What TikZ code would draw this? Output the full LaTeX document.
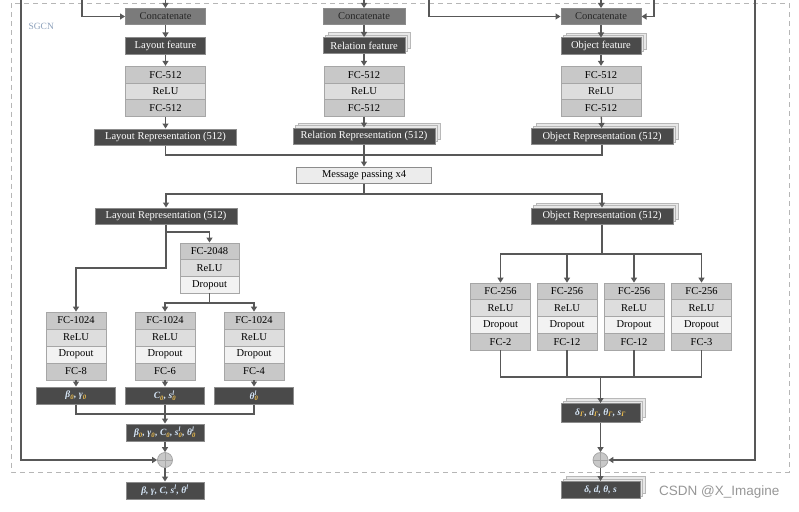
\documentclass[tikz,border=0pt]{standalone}
\usepackage{fontspec}
\setmainfont{Liberation Serif}
\newfontfamily\creditfont{Liberation Sans}
\usepackage{xcolor}
\usepackage{tikz}
\definecolor{linegray}{RGB}{88,88,88}
\definecolor{darkfill}{RGB}{74,74,74}
\definecolor{boxborder}{RGB}{140,140,140}
\definecolor{catfill}{RGB}{123,123,123}
\definecolor{fcfill}{RGB}{200,200,200}
\definecolor{relufill}{RGB}{221,221,221}
\definecolor{dropfill}{RGB}{242,242,242}
\definecolor{rowborder}{RGB}{166,166,166}
\definecolor{msgfill}{RGB}{236,236,236}
\definecolor{copyfill}{RGB}{232,232,232}
\definecolor{copyborder}{RGB}{184,184,184}
\definecolor{framegray}{RGB}{182,182,182}
\definecolor{sgcnblue}{RGB}{140,160,186}
\definecolor{mathtint}{RGB}{214,230,247}
\definecolor{subtint}{RGB}{242,193,78}
\definecolor{creditgray}{RGB}{150,150,150}
\usetikzlibrary{arrows.meta,shadows}

\newcommand\idx[1]{\textsubscript{\textcolor{subtint}{#1}}}
\newcommand\idxx[2]{\rlap{\textsuperscript{#1}}\textsubscript{\textcolor{subtint}{#2}}}

\tikzset{
  box/.style={rectangle, inner sep=0pt, minimum height=16pt, line width=1pt,
    font=\fontsize{10.5}{11}\selectfont},
  concat/.style={box, fill=catfill, draw=boxborder, minimum width=80pt, text=black!85},
  feat/.style={box, fill=darkfill, draw=boxborder, text=white},
  mathbox/.style={feat, minimum width=79pt, minimum height=17pt, text=mathtint,
    font=\fontsize{9.5}{10}\selectfont\bfseries\itshape},
  stacked/.style={
    copy shadow={shadow xshift=5pt, shadow yshift=5pt, fill=copyfill, draw=copyborder, line width=0.6pt},
    copy shadow={shadow xshift=2.5pt, shadow yshift=2.5pt, fill=copyfill, draw=copyborder, line width=0.6pt}},
  fcrow/.style={box, fill=fcfill, draw=rowborder, line width=0.8pt},
  relurow/.style={box, fill=relufill, draw=rowborder, line width=0.8pt},
  droprow/.style={box, fill=dropfill, draw=rowborder, line width=0.8pt},
  toprow/.style={minimum width=80pt, minimum height=16.7pt},
  lowrow/.style={minimum width=60pt, minimum height=17pt},
  headrow/.style={minimum width=60pt, minimum height=16.75pt},
  msgbox/.style={box, fill=msgfill, draw=boxborder, minimum width=135pt},
  plusnode/.style={circle, minimum size=15pt, inner sep=0pt, fill=fcfill, draw=rowborder, line width=0.8pt,
    path picture={\draw[rowborder, line width=0.8pt]
      (path picture bounding box.north) -- (path picture bounding box.south)
      (path picture bounding box.west) -- (path picture bounding box.east);}},
  line/.style={draw=linegray, line width=1.3pt},
  arr/.style={line, -{Triangle[length=5pt,width=6pt]}, color=linegray},
  frame/.style={draw=framegray, line width=0.8pt, dash pattern=on 5pt off 4pt}
}

\begin{document}
\begin{tikzpicture}[x=1pt,y=-1pt]
    \useasboundingbox (0,0) rectangle (799,511);
    % SGCN frame
    \draw[frame] (11.5,3.5) rectangle (789,472);
    \node[anchor=west, font=\fontsize{9.5}{10}\selectfont, text=sgcnblue] (sgcn) at (25,26) {SGCN};

    % inputs coming in from above
    \coordinate (inL1) at (82,0);
    \coordinate (inL2) at (165.5,0);
    \coordinate (inR) at (364,0);
    \coordinate (inO1) at (429,0);
    \coordinate (inO2) at (601,0);
    \coordinate (inO3) at (654,0);
    \coordinate (skipL) at (21,0);
    \coordinate (skipR) at (755,0);

    % three branches: layout / relation / object
    \node[concat] (lay-cat) at (165.5,16.5) {Concatenate};
    \node[concat, minimum width=82pt] (rel-cat) at (364,16.5) {Concatenate};
    \node[concat] (obj-cat) at (601,16.5) {Concatenate};
    \node[feat, minimum width=80pt] (lay-feat) at (165.5,46) {Layout feature};
    \node[feat, stacked, minimum width=82pt] (rel-feat) at (364,45.5) {Relation feature};
    \node[feat, stacked, minimum width=80pt] (obj-feat) at (601,46) {Object feature};
    \node[feat, minimum width=142pt] (lay-rep) at (165.5,137) {Layout Representation (512)};
    \node[feat, stacked, minimum width=142pt] (rel-rep) at (364,136) {Relation Representation (512)};
    \node[feat, stacked, minimum width=142pt] (obj-rep) at (602,136.5) {Object Representation (512)};
    \foreach \n/\x in {lay/165.5, rel/364, obj/601} {
        \node[fcrow, toprow] (\n-fc1) at (\x,74.6) {FC-512};
        \node[relurow, toprow] (\n-relu) at (\x,91.3) {ReLU};
        \node[fcrow, toprow] (\n-fc2) at (\x,108) {FC-512};
        \draw[arr] (\n-cat) -- (\n-feat);
        \draw[arr] (\n-feat) -- (\n-fc1);
        \draw[arr] (\n-fc2) -- (\n-rep);
    }
    \draw[arr] (inL1) |- (lay-cat);
    \draw[arr] (inL2) -- (lay-cat);
    \draw[arr] (inR) -- (rel-cat);
    \draw[arr] (inO1) |- (obj-cat);
    \draw[arr] (inO2) -- (obj-cat);
    \draw[arr] (inO3) |- (obj-cat);

    % message passing
    \node[msgbox] (msg) at (364,175) {Message passing x4};
    \coordinate (gather) at (364,155);
    \coordinate (spread) at (364,194);
    \draw[line] (lay-rep) |- (gather) -| (obj-rep);
    \draw[arr] (rel-rep) -- (msg);
    \node[feat, minimum width=142pt] (lay-rep2) at (166,216) {Layout Representation (512)};
    \node[feat, stacked, minimum width=142pt] (obj-rep2) at (602,216) {Object Representation (512)};
    \draw[line] (msg) -- (spread);
    \draw[arr] (spread) -| (lay-rep2);
    \draw[arr] (spread) -| (obj-rep2);

    % layout decoder
    \node[fcrow, minimum width=59pt, minimum height=16.7pt] (big-fc) at (209.5,251.3) {FC-2048};
    \node[relurow, minimum width=59pt, minimum height=16.7pt] (big-relu) at (209.5,268) {ReLU};
    \node[droprow, minimum width=59pt, minimum height=16.7pt] (big-drop) at (209.5,284.7) {Dropout};
    \foreach \i/\x/\last in {1/76/FC-8, 2/165/FC-6, 3/254/FC-4} {
        \node[fcrow, lowrow] (box\i-fc1) at (\x,320.5) {FC-1024};
        \node[relurow, lowrow] (box\i-relu) at (\x,337.5) {ReLU};
        \node[droprow, lowrow] (box\i-drop) at (\x,354.5) {Dropout};
        \node[fcrow, lowrow] (box\i-fc2) at (\x,371.5) {\last};
    }
    \coordinate (laysplit) at (166,232);
    \coordinate (laydown) at (166,268);
    \coordinate (bigsplit) at (209.5,303);
    \draw[arr] (lay-rep2) -- (laysplit) -| (big-fc);
    \draw[arr] (laysplit) -- (laydown) -| (box1-fc1);
    \draw[line] (big-drop) -- (bigsplit);
    \draw[arr] (bigsplit) -| (box2-fc1);
    \draw[arr] (bigsplit) -| (box3-fc1);

    \node[mathbox] (out1) at (76,395.5) {β\idx{0}, γ\idx{0}};
    \node[mathbox] (out2) at (165,395.5) {C\idx{0}, s\idxx{l}{0}};
    \node[mathbox] (out3) at (254,395.5) {θ\idxx{l}{0}};
    \foreach \i in {1,2,3}
        \draw[arr] (box\i-fc2) -- (out\i);
    \node[mathbox, minimum width=78pt] (comb) at (165,432.5) {β\idx{0}, γ\idx{0}, C\idx{0}, s\idxx{l}{0}, θ\idxx{l}{0}};
    \coordinate (laymerge) at (165,414);
    \draw[line] (out1) |- (laymerge) -| (out3);
    \draw[arr] (out2) -- (comb);
    \node[plusnode] (plusL) at (165,460) {};
    \node[mathbox, minimum width=78pt] (finL) at (165,490.5) {β, γ, C, s\textsuperscript{l}, θ\textsuperscript{l}};
    \draw[arr] (comb) -- (plusL);
    \draw[arr] (skipL) |- (plusL);
    \draw[arr] (plusL) -- (finL);

    % object decoder
    \coordinate (objsplit) at (602,254);
    \coordinate (objmerge) at (600.5,377);
    \draw[line] (obj-rep2) -- (objsplit);
    \foreach \i/\x/\last in {1/500.5/FC-2, 2/567/FC-12, 3/634/FC-12, 4/701.5/FC-3} {
        \node[fcrow, headrow] (head\i-fc1) at (\x,291.4) {FC-256};
        \node[relurow, headrow] (head\i-relu) at (\x,308.1) {ReLU};
        \node[droprow, headrow] (head\i-drop) at (\x,324.9) {Dropout};
        \node[fcrow, headrow] (head\i-fc2) at (\x,341.6) {\last};
        \draw[arr] (objsplit) -| (head\i-fc1);
        \draw[line] (head\i-fc2) |- (objmerge);
    }
    \node[mathbox, stacked, minimum height=19pt] (delta) at (600.5,413) {δ\idx{Γ}, d\idx{Γ}, θ\idx{Γ}, s\idx{Γ}};
    \node[plusnode] (plusR) at (600.5,460) {};
    \node[mathbox, stacked] (finR) at (600.5,490) {δ, d, θ, s};
    \draw[arr] (objmerge) -- (delta);
    \draw[arr] (delta) -- (plusR);
    \draw[arr] (skipR) |- (plusR);
    \draw[arr] (plusR) -- (finR);

    \node[anchor=east, font=\creditfont\fontsize{13.5}{14}\selectfont, text=creditgray] (credit) at (783,492) {CSDN @X\_Imagine};
\end{tikzpicture}
\end{document}
